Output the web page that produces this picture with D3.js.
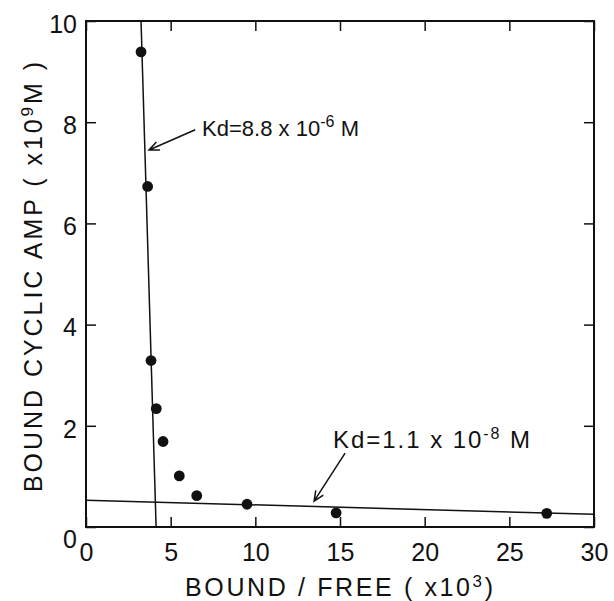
<!DOCTYPE html>
<html>
<head>
<meta charset="utf-8">
<script src="https://cdn.jsdelivr.net/npm/d3@7"></script>
<style>
  body { margin: 0; background: #fff; }
  svg text { font-family: "Liberation Sans", Arial, sans-serif; fill: #111; }
</style>
</head>
<body>
<script>
// Scatchard plot data (bound/free x10^3 vs bound cAMP x10^9 M)
var boundFree = [3.25, 3.64, 3.84, 4.15, 4.55, 5.51, 6.54, 9.51, 14.77, 27.21];
var boundAmp  = [9.39, 6.73, 3.29, 2.34, 1.69, 1.01, 0.62, 0.45, 0.28, 0.27];

// two fitted lines, end points in data units
var highLineX = [3.25, 4.14], highLineY = [10, 0];
var lowLineX  = [0, 30],      lowLineY  = [0.53, 0.25];

var xTicks = [0, 5, 10, 15, 20, 25, 30];
var yTicks = [0, 2, 4, 6, 8, 10];

var width = 614, height = 601;
var svg = d3.select("body").append("svg").attr("width", width).attr("height", height);

var x = d3.scaleLinear().domain([0, 30]).range([86, 594]);
var y = d3.scaleLinear().domain([0, 10]).range([527, 21]);

// frame
svg.append("rect")
  .attr("x", x(0)).attr("y", y(10))
  .attr("width", x(30) - x(0)).attr("height", y(0) - y(10))
  .attr("fill", "none").attr("stroke", "#111").attr("stroke-width", 2);

// axes with inward ticks
var gBottom = svg.append("g").attr("transform", "translate(0," + y(0) + ")")
  .call(d3.axisBottom(x).tickValues(xTicks).tickSizeInner(-10).tickSizeOuter(0).tickPadding(16));
var gTop = svg.append("g").attr("transform", "translate(0," + y(10) + ")")
  .call(d3.axisTop(x).tickValues(xTicks).tickSizeInner(-10).tickSizeOuter(0).tickFormat(""));
var gLeft = svg.append("g").attr("transform", "translate(" + x(0) + ",0)")
  .call(d3.axisLeft(y).tickValues(yTicks).tickSizeInner(-10).tickSizeOuter(0).tickPadding(9));
var gRight = svg.append("g").attr("transform", "translate(" + x(30) + ",0)")
  .call(d3.axisRight(y).tickValues(yTicks).tickSizeInner(-10).tickSizeOuter(0).tickFormat(""));

[gBottom, gTop, gLeft, gRight].forEach(function(g) {
  g.select(".domain").remove();
  g.selectAll("line").attr("stroke", "#111").attr("stroke-width", 1.5);
  g.selectAll("text").style("font-size", "25px").style("font-family", "Liberation Sans, Arial, sans-serif").attr("fill", "#111");
});
gLeft.selectAll("text").attr("dy", function(d) { return d === 0 ? "0.8em" : "0.45em"; });

// fitted lines
var line = d3.line().x(function(d) { return x(d[0]); }).y(function(d) { return y(d[1]); });
svg.append("path").attr("d", line(d3.zip(highLineX, highLineY)))
  .attr("fill", "none").attr("stroke", "#111").attr("stroke-width", 1.5);
svg.append("path").attr("d", line(d3.zip(lowLineX, lowLineY)))
  .attr("fill", "none").attr("stroke", "#111").attr("stroke-width", 1.5);

// points
svg.selectAll("circle.pt").data(d3.zip(boundFree, boundAmp)).enter().append("circle")
  .attr("class", "pt")
  .attr("cx", function(d) { return x(d[0]); })
  .attr("cy", function(d) { return y(d[1]); })
  .attr("r", 5.4)
  .attr("fill", "#111");

// annotations: arrow from/to and label start, in data units
var notes = [
  { label: "8.8", exp: "-6", tx: 6.85, ty: 7.72, len: 157, size: 22, ax: [6.45, 3.72], ay: [7.85, 7.45] },
  { label: "1.1", exp: "-8", tx: 14.59, ty: 1.56, len: 197, size: 24, ax: [15.3, 13.47], ay: [1.46, 0.51] }
];

notes.forEach(function(n) {
  var t = svg.append("text")
    .attr("x", x(n.tx)).attr("y", y(n.ty))
    .attr("textLength", n.len).attr("lengthAdjust", "spacing")
    .style("font-size", n.size + "px");
  t.append("tspan").text("Kd=" + n.label + " x 10");
  t.append("tspan").attr("dy", -9).style("font-size", "16px").text(n.exp);
  t.append("tspan").attr("dy", 9).text(" M");

  var x1 = x(n.ax[0]), y1 = y(n.ay[0]), x2 = x(n.ax[1]), y2 = y(n.ay[1]);
  var a = Math.atan2(y2 - y1, x2 - x1), h = 11, s = 0.42;
  svg.append("path")
    .attr("d", "M" + x1 + "," + y1 + "L" + x2 + "," + y2 +
      "M" + (x2 - h * Math.cos(a - s)) + "," + (y2 - h * Math.sin(a - s)) +
      "L" + x2 + "," + y2 +
      "L" + (x2 - h * Math.cos(a + s)) + "," + (y2 - h * Math.sin(a + s)))
    .attr("fill", "none").attr("stroke", "#111").attr("stroke-width", 1.5);
});

// axis titles
var xt = svg.append("text")
  .attr("x", 185).attr("y", 596)
  .attr("textLength", 308).attr("lengthAdjust", "spacing")
  .style("font-size", "25px");
xt.append("tspan").text("BOUND / FREE ( x10");
xt.append("tspan").attr("dy", -9).style("font-size", "17px").text("3");
xt.append("tspan").attr("dy", 9).text(")");

var yt = svg.append("text")
  .attr("transform", "translate(42,492) rotate(-90)")
  .attr("textLength", 430).attr("lengthAdjust", "spacing")
  .style("font-size", "25px");
yt.append("tspan").text("BOUND CYCLIC AMP ( x10");
yt.append("tspan").attr("dy", -9).style("font-size", "17px").text("9");
yt.append("tspan").attr("dy", 9).text("M )");
</script>
</body>
</html>
